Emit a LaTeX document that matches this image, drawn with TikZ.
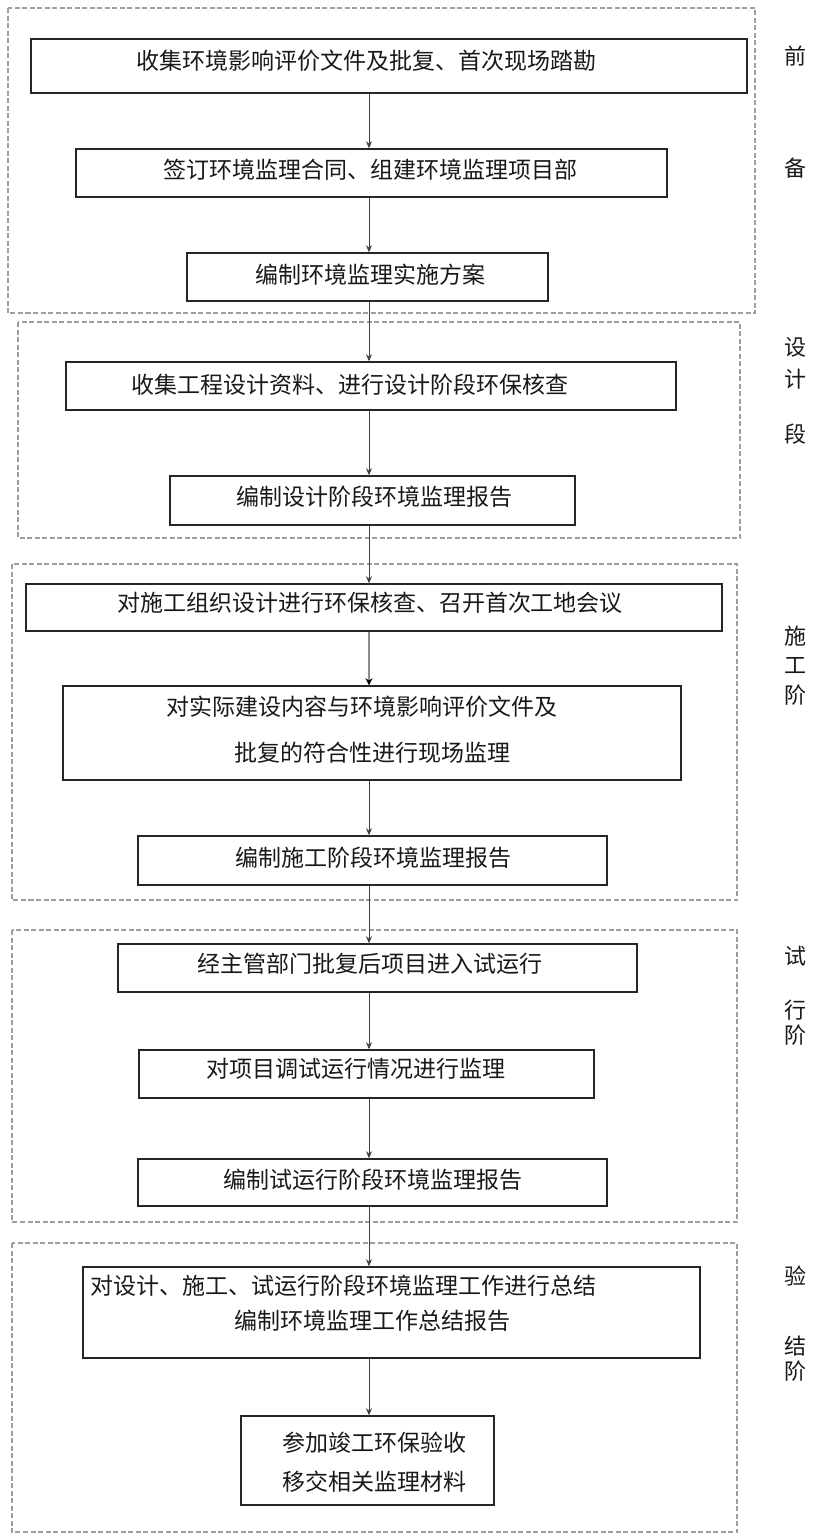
\documentclass[tikz,border=0pt]{standalone}
\usepackage{fontspec}
\newfontfamily\cjk{Noto Sans CJK SC}
\usetikzlibrary{arrows.meta}
\begin{document}
\begin{tikzpicture}[x=1pt,y=-1pt,
  grp/.style={draw=black!38, line width=1.8pt, dash pattern=on 5pt off 2.5pt},
  stepbox/.style={draw=black!85, line width=1.5pt, inner sep=0pt},
  txt/.style={font=\cjk\fontsize{23}{27}\selectfont, text=black!90, inner sep=0pt},
  side/.style={font=\cjk\fontsize{22}{25}\selectfont, text=black!90, inner sep=0pt},
  arr/.style={draw=black!75, line width=0.9pt, -{Stealth[length=7pt,width=6pt]}},
  arrg/.style={draw=black!45, line width=2.6pt, -{Stealth[length=7pt,width=7pt,color=black]}}]
\useasboundingbox (0,0) rectangle (820,1535);
\fill[white] (0,0) rectangle (820,1535);
\coordinate (ax) at (369,0);
% groups
\draw[grp] (8,8) rectangle (755,313);
\draw[grp] (18,322) rectangle (740,538);
\draw[grp] (12,564) rectangle (737,900);
\draw[grp] (12,930) rectangle (737,1222);
\draw[grp] (12,1243) rectangle (737,1532);
% boxes
\node[stepbox, minimum width=716pt, minimum height=54pt] (b1) at (389,66) {};
\node[stepbox, minimum width=591pt, minimum height=48pt] (b2) at (371.5,173) {};
\node[stepbox, minimum width=361pt, minimum height=48pt] (b3) at (367.5,277) {};
\node[stepbox, minimum width=610pt, minimum height=48pt] (b4) at (371,386) {};
\node[stepbox, minimum width=405pt, minimum height=49pt] (b5) at (372.5,500.5) {};
\node[stepbox, minimum width=696pt, minimum height=47pt] (b6) at (374,607.5) {};
\node[stepbox, minimum width=618pt, minimum height=94pt] (b7) at (372,733) {};
\node[stepbox, minimum width=469pt, minimum height=49pt] (b8) at (372.5,860.5) {};
\node[stepbox, minimum width=519pt, minimum height=48pt] (b9) at (377.5,968) {};
\node[stepbox, minimum width=455pt, minimum height=48pt] (b10) at (366.5,1074) {};
\node[stepbox, minimum width=469pt, minimum height=47pt] (b11) at (372.5,1182.5) {};
\node[stepbox, minimum width=617pt, minimum height=91pt] (b12) at (391.5,1312.5) {};
\node[stepbox, minimum width=253pt, minimum height=89pt] (b13) at (367.5,1460.5) {};
% texts
\node[txt] (t1) at (366,61) {收集环境影响评价文件及批复、首次现场踏勘};
\node[txt] (t2) at (370,170) {签订环境监理合同、组建环境监理项目部};
\node[txt] (t3) at (370,275) {编制环境监理实施方案};
\node[txt] (t4) at (350,385) {收集工程设计资料、进行设计阶段环保核查};
\node[txt] (t5) at (374,497) {编制设计阶段环境监理报告};
\node[txt] (t6) at (370,603) {对施工组织设计进行环保核查、召开首次工地会议};
\node[txt] (t7a) at (362,707) {对实际建设内容与环境影响评价文件及};
\node[txt] (t7b) at (372,753) {批复的符合性进行现场监理};
\node[txt] (t8) at (373,858) {编制施工阶段环境监理报告};
\node[txt] (t9) at (370,964) {经主管部门批复后项目进入试运行};
\node[txt] (t10) at (356,1069) {对项目调试运行情况进行监理};
\node[txt] (t11) at (373,1180) {编制试运行阶段环境监理报告};
\node[txt] (t12a) at (343,1286) {对设计、施工、试运行阶段环境监理工作进行总结};
\node[txt] (t12b) at (372,1321) {编制环境监理工作总结报告};
\node[txt] (t13a) at (374,1443) {参加竣工环保验收};
\node[txt] (t13b) at (374,1482) {移交相关监理材料};
% side labels
\node[side] (s1) at (795,56) {前};
\node[side] (s2) at (795,168) {备};
\node[side] (s3) at (795,347) {设};
\node[side] (s4) at (795,379) {计};
\node[side] (s5) at (795,434) {段};
\node[side] (s6) at (795,636) {施};
\node[side] (s7) at (795,666) {工};
\node[side] (s8) at (795,695) {阶};
\node[side] (s9) at (795,956) {试};
\node[side] (s10) at (795,1010) {行};
\node[side] (s11) at (795,1035) {阶};
\node[side] (s12) at (795,1276) {验};
\node[side] (s13) at (795,1346) {结};
\node[side] (s14) at (795,1371) {阶};
% arrows
\draw[arr] (b1.south -| ax) -- (b2.north -| ax);
\draw[arr] (b2.south -| ax) -- (b3.north -| ax);
\draw[arr] (b3.south -| ax) -- (b4.north -| ax);
\draw[arr] (b4.south -| ax) -- (b5.north -| ax);
\draw[arr] (b5.south -| ax) -- (b6.north -| ax);
\draw[arrg] (b6.south -| ax) -- (b7.north -| ax);
\draw[arr] (b7.south -| ax) -- (b8.north -| ax);
\draw[arr] (b8.south -| ax) -- (b9.north -| ax);
\draw[arr] (b9.south -| ax) -- (b10.north -| ax);
\draw[arr] (b10.south -| ax) -- (b11.north -| ax);
\draw[arr] (b11.south -| ax) -- (b12.north -| ax);
\draw[arr] (b12.south -| ax) -- (b13.north -| ax);
\end{tikzpicture}
\end{document}
